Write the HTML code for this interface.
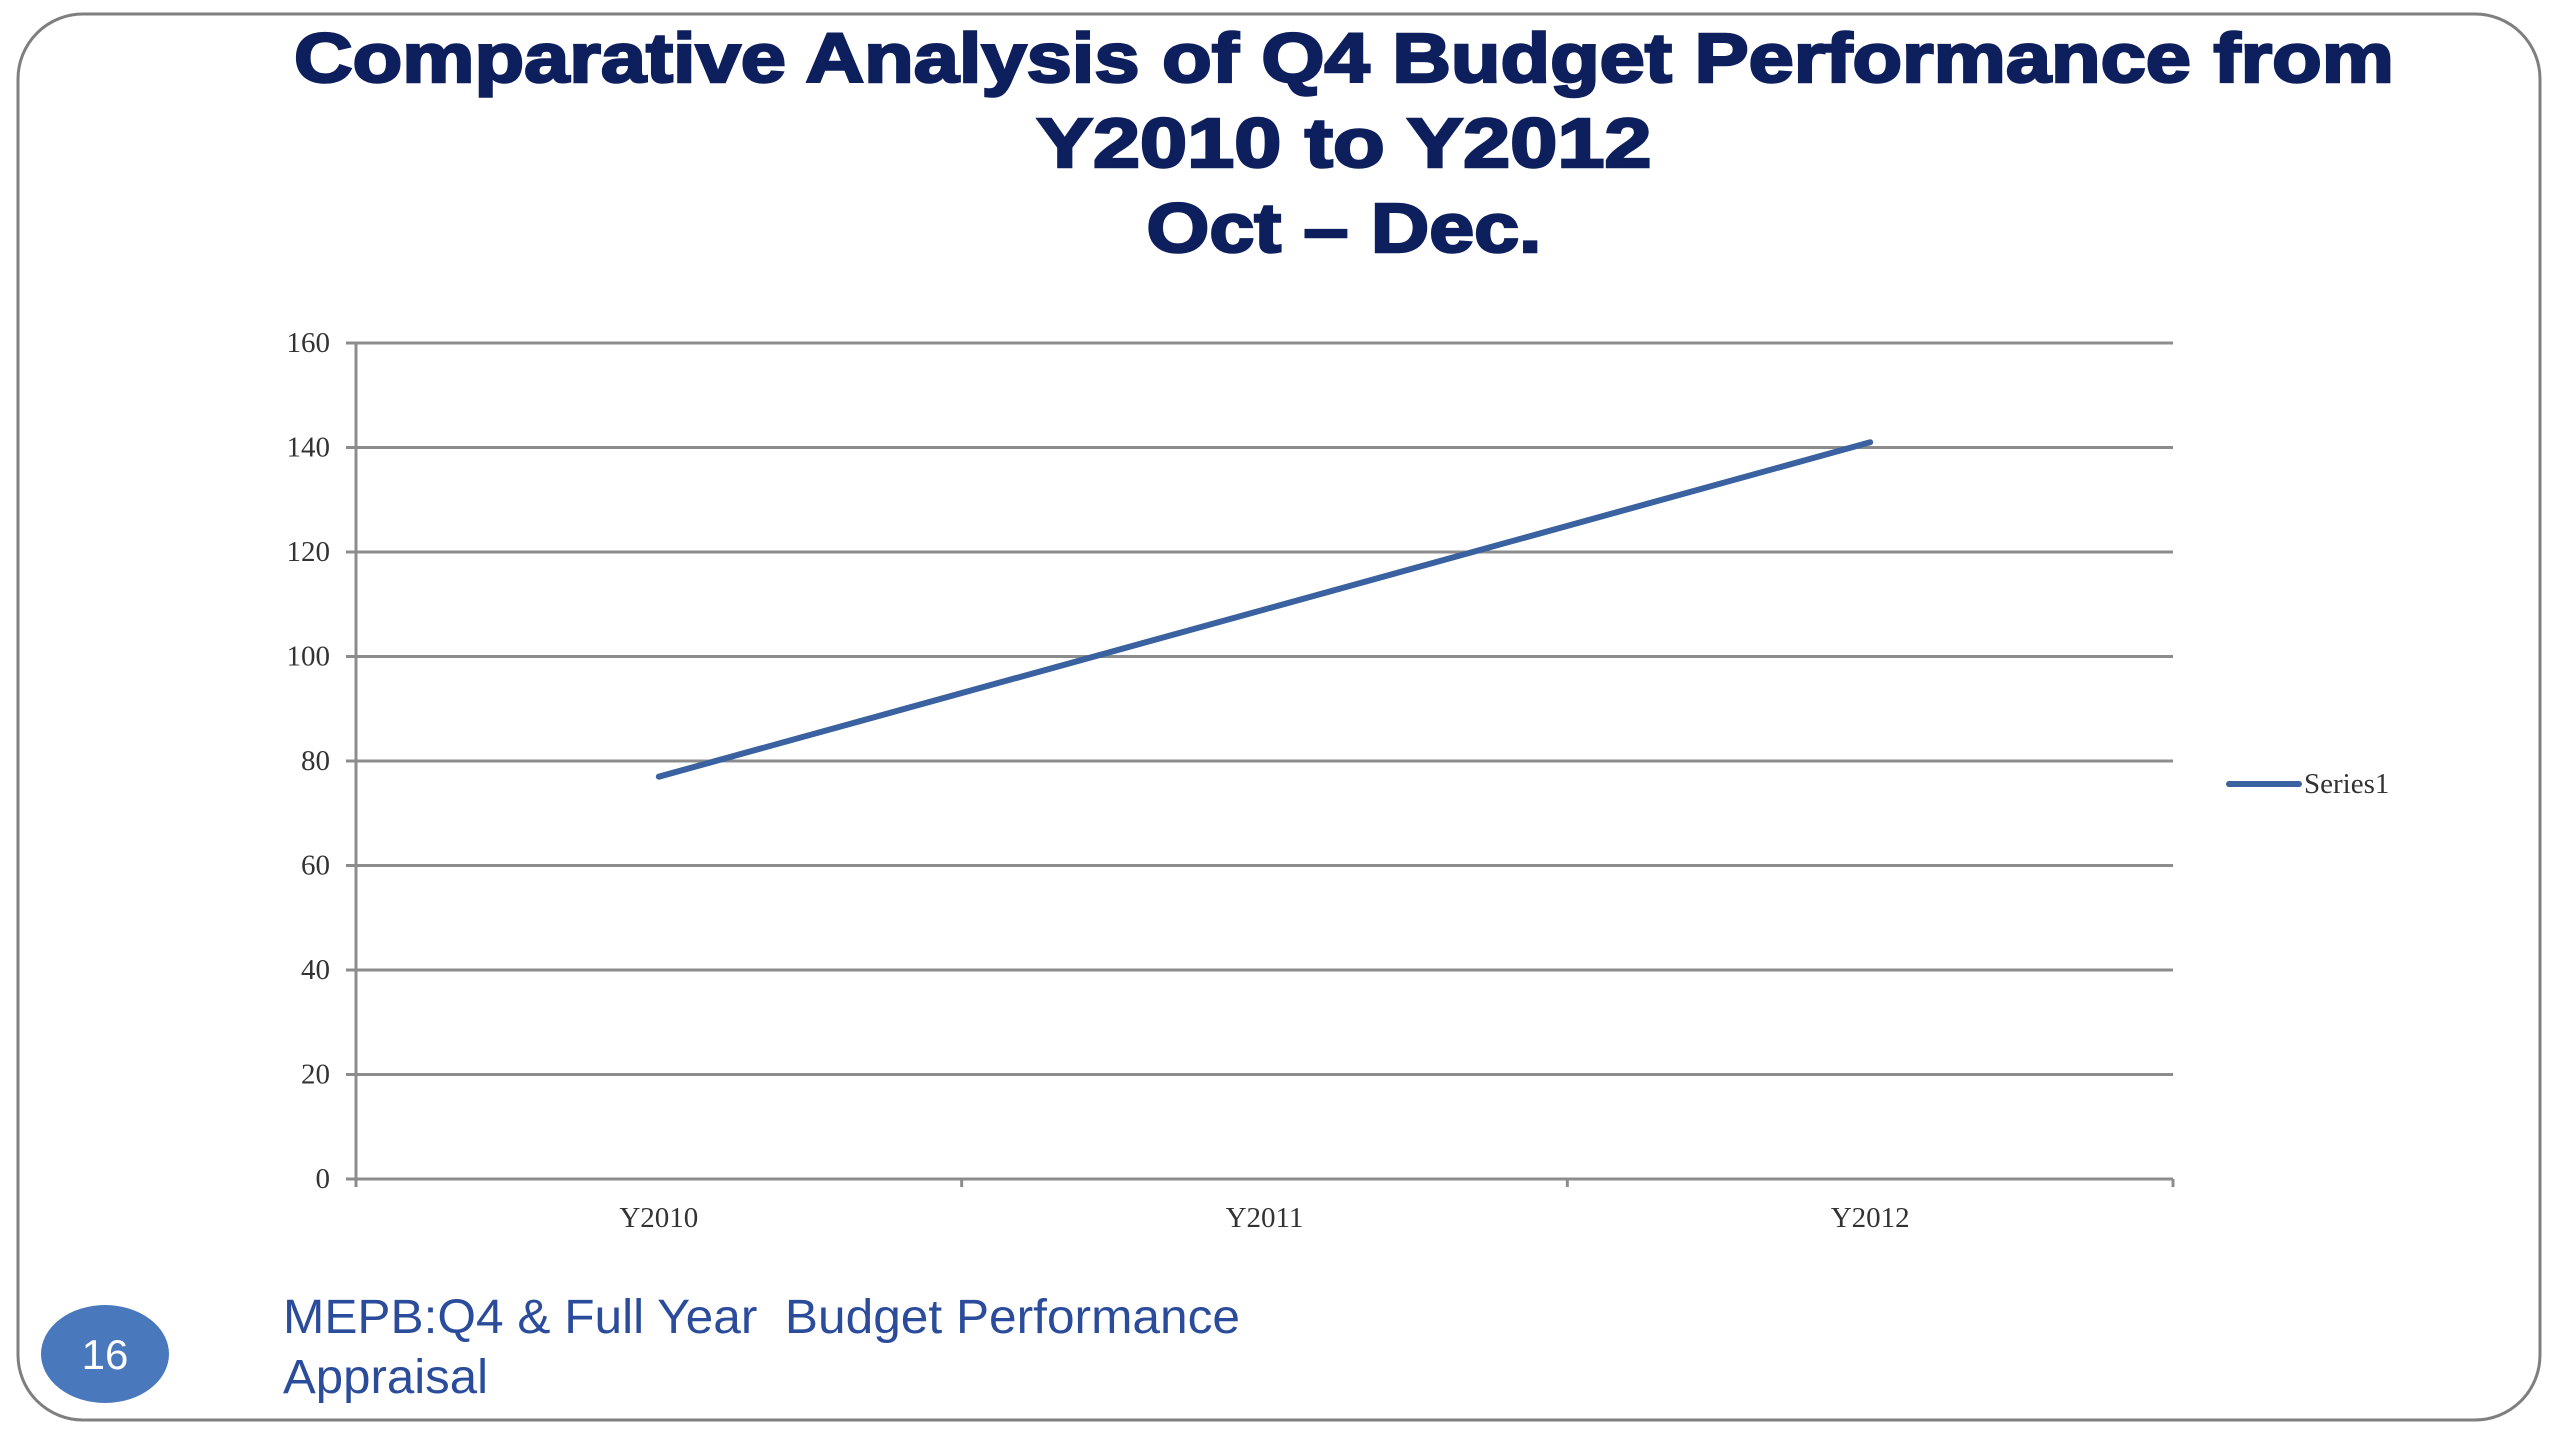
<!DOCTYPE html>
<html><head><meta charset="utf-8"><style>
html,body{margin:0;padding:0;background:#fff;}
svg{display:block;}
</style></head><body>
<svg id="chart" width="2560" height="1440" viewBox="0 0 2560 1440" xmlns="http://www.w3.org/2000/svg">
<rect x="18" y="14" width="2522" height="1406" rx="65" ry="65" fill="#fff" stroke="#7f7f7f" stroke-width="3"/>
<g font-family="'Liberation Sans', Arial, sans-serif" font-weight="bold" fill="#0d1f5c" stroke="#0d1f5c" stroke-width="2.5" text-anchor="middle">
<text x="1344" y="82" font-size="70" textLength="2100" lengthAdjust="spacingAndGlyphs">Comparative Analysis of Q4 Budget Performance from</text>
<text x="1344" y="167" font-size="70" textLength="615" lengthAdjust="spacingAndGlyphs">Y2010 to Y2012</text>
<text x="1344" y="252" font-size="70" textLength="395" lengthAdjust="spacingAndGlyphs">Oct – Dec.</text>
</g>
<g id="grid"></g>
<g id="axes"></g>
<g id="series"></g>
<g>
<line x1="2229" y1="784" x2="2299" y2="784" stroke="#3a62a0" stroke-width="6" stroke-linecap="round"/>
<text x="2304" y="793" font-family="'Liberation Serif', serif" font-size="29" fill="#333">Series1</text>
</g>
<ellipse cx="105" cy="1354" rx="64" ry="49" fill="#4a78bd"/>
<text x="105" y="1369" text-anchor="middle" font-family="'Liberation Sans', sans-serif" font-size="42" fill="#fff">16</text>
<g font-family="'Liberation Sans', sans-serif" font-size="48" fill="#2b4c9b">
<text x="283" y="1333" xml:space="preserve" textLength="957" lengthAdjust="spacingAndGlyphs">MEPB:Q4 &amp; Full Year  Budget Performance</text>
<text x="283" y="1393" textLength="205" lengthAdjust="spacingAndGlyphs">Appraisal</text>
</g>
</svg>
<script>
const categories = ["Y2010", "Y2011", "Y2012"];
const seriesValues = [77, 109, 141];
const yTicks = [0, 20, 40, 60, 80, 100, 120, 140, 160];

const NS = "http://www.w3.org/2000/svg";
const X0 = 356, X1 = 2173, Y0 = 1179, Y1 = 343, YMAX = 160;
function yScale(v){ return Y0 - (v / YMAX) * (Y0 - Y1); }
function xBand(i){ return X0 + (i + 0.5) * (X1 - X0) / categories.length; }
function mk(tag, attrs, parent){
  const e = document.createElementNS(NS, tag);
  for (const k in attrs) e.setAttribute(k, attrs[k]);
  parent.appendChild(e); return e;
}
const grid = document.getElementById("grid");
const axes = document.getElementById("axes");
const series = document.getElementById("series");

yTicks.forEach(function(t){
  const y = yScale(t);
  const l = mk("line", {x1: X0 - 10, x2: X1, y1: y, y2: y, stroke: "#8c8c8c", "stroke-width": 3}, grid);
  
  
  const tx = mk("text", {x: X0 - 26, y: y + 9, "text-anchor": "end", "font-family": "'Liberation Serif', serif", "font-size": 29, fill: "#333"}, axes);
  tx.textContent = t;
  
  
});
const ya = mk("line", {x1: X0, x2: X0, y1: Y1, y2: Y0 + 8, stroke: "#8c8c8c", "stroke-width": 3}, axes);


for (let i = 0; i <= categories.length; i++){
  const x = X0 + i * (X1 - X0) / categories.length;
  const tk = mk("line", {x1: x, x2: x, y1: Y0, y2: Y0 + 8, stroke: "#8c8c8c", "stroke-width": 3}, axes);
  
  
}
categories.forEach(function(c, i){
  const tx = mk("text", {x: xBand(i), y: Y0 + 48, "text-anchor": "middle", "font-family": "'Liberation Serif', serif", "font-size": 29, fill: "#333"}, axes);
  tx.textContent = c;
  
  
});
const pts = seriesValues.map(function(v, i){ return xBand(i) + "," + yScale(v); }).join(" ");
const pl = mk("polyline", {points: pts, fill: "none", stroke: "#3a62a0", "stroke-width": 6, "stroke-linecap": "round", "stroke-linejoin": "round"}, series);


</script>
</body></html>
